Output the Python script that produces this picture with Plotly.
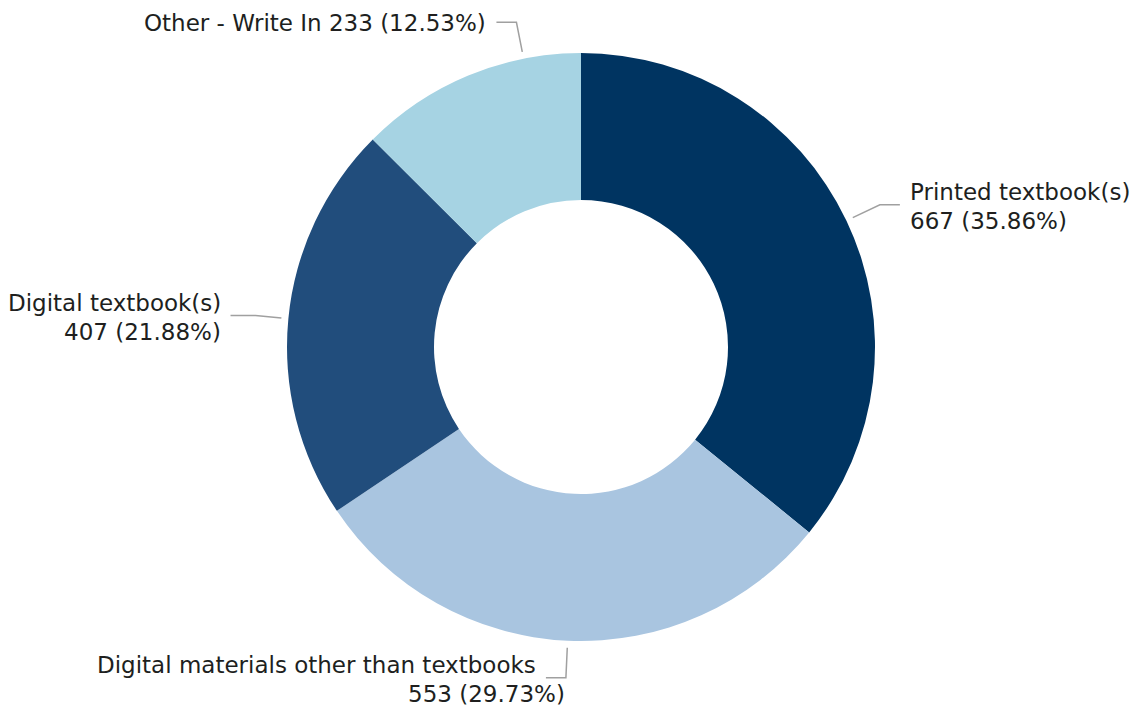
import math
import plotly.graph_objects as go

# ---- data ----
categories = ["Printed textbook(s)", "Digital materials other than textbooks",
              "Digital textbook(s)", "Other - Write In"]
counts = [667, 553, 407, 233]
colors = ["#003461", "#A9C5E0", "#214D7C", "#A6D3E3"]

# ---- layout constants ----
W, H = 1138, 710
CX, CY, R = 581, 347, 294
FONT = "DejaVu Sans"
FSIZE = 23
TXT = "#201F1E"
LINE_C = "#A0A0A0"

# per-label leader/label layout: side (+1 right / -1 left), angle shift (deg),
# elbow radial length, horizontal length, single-line flag, 2nd line anchor
label_cfg = {
    "Printed textbook(s)": dict(side=1, shift=0, leg=30, hlen=20, single=False, l2="text"),
    "Digital materials other than textbooks": dict(side=-1, shift=0, leg=30, hlen=20, single=False, l2="elbow"),
    "Digital textbook(s)": dict(side=-1, shift=0, leg=26, hlen=25, single=False, l2="text"),
    "Other - Write In": dict(side=-1, shift=11.3, leg=30, hlen=20, single=True, l2="text"),
}

total = sum(counts)
pcts = [c / total * 100 for c in counts]

fig = go.Figure(go.Pie(
    labels=categories, values=counts, sort=False, direction="clockwise", rotation=0,
    hole=0.5, marker=dict(colors=colors, line=dict(width=0)),
    textinfo="none", hoverinfo="label+value+percent", showlegend=False,
    domain=dict(x=[(CX - R) / W, (CX + R) / W], y=[1 - (CY + R) / H, 1 - (CY - R) / H]),
))


def pp(x, y):
    return x / W, 1 - y / H


shapes = []
annotations = []
cum = 0.0
for cat, val, pct in zip(categories, counts, pcts):
    cfg = label_cfg[cat]
    mid = (cum + pct / 2) / 100 * 360 + cfg["shift"]
    cum += pct
    a = math.radians(mid)
    dx, dy = math.sin(a), -math.cos(a)
    r0 = R + 7
    r1 = r0 + cfg["leg"]
    sx, sy = CX + r0 * dx, CY + r0 * dy
    ex, ey = CX + r1 * dx, CY + r1 * dy
    hx = ex + cfg["side"] * cfg["hlen"]
    x0, y0 = pp(sx, sy)
    x1, y1 = pp(ex, ey)
    x2, _ = pp(hx, ey)
    shapes.append(dict(type="path", xref="paper", yref="paper",
                       path=f"M {x0},{y0} L {x1},{y1} L {x2},{y1}",
                       line=dict(color=LINE_C, width=1.5)))
    tx = hx + cfg["side"] * 8
    anchor = "left" if cfg["side"] > 0 else "right"
    value_txt = f"{val} ({pct:.2f}%)"
    if cfg["single"]:
        lines = [(f"{cat} {value_txt}", tx, ey + 1)]
    else:
        l2x = tx if cfg["l2"] == "text" else ex + 1
        lines = [(cat, tx, ey - 12.5), (value_txt, l2x, ey + 16.5)]
    for t, x, y in lines:
        ax, ay = pp(x, y)
        annotations.append(dict(text=t, x=ax, y=ay, xref="paper", yref="paper",
                                xanchor=anchor, yanchor="middle", showarrow=False,
                                font=dict(family=FONT, size=FSIZE, color=TXT)))

fig.update_layout(
    width=W, height=H, margin=dict(l=0, r=0, t=0, b=0),
    paper_bgcolor="white", plot_bgcolor="white",
    shapes=shapes, annotations=annotations,
    font=dict(family=FONT, size=FSIZE, color=TXT),
)

fig.write_html("out.html")
